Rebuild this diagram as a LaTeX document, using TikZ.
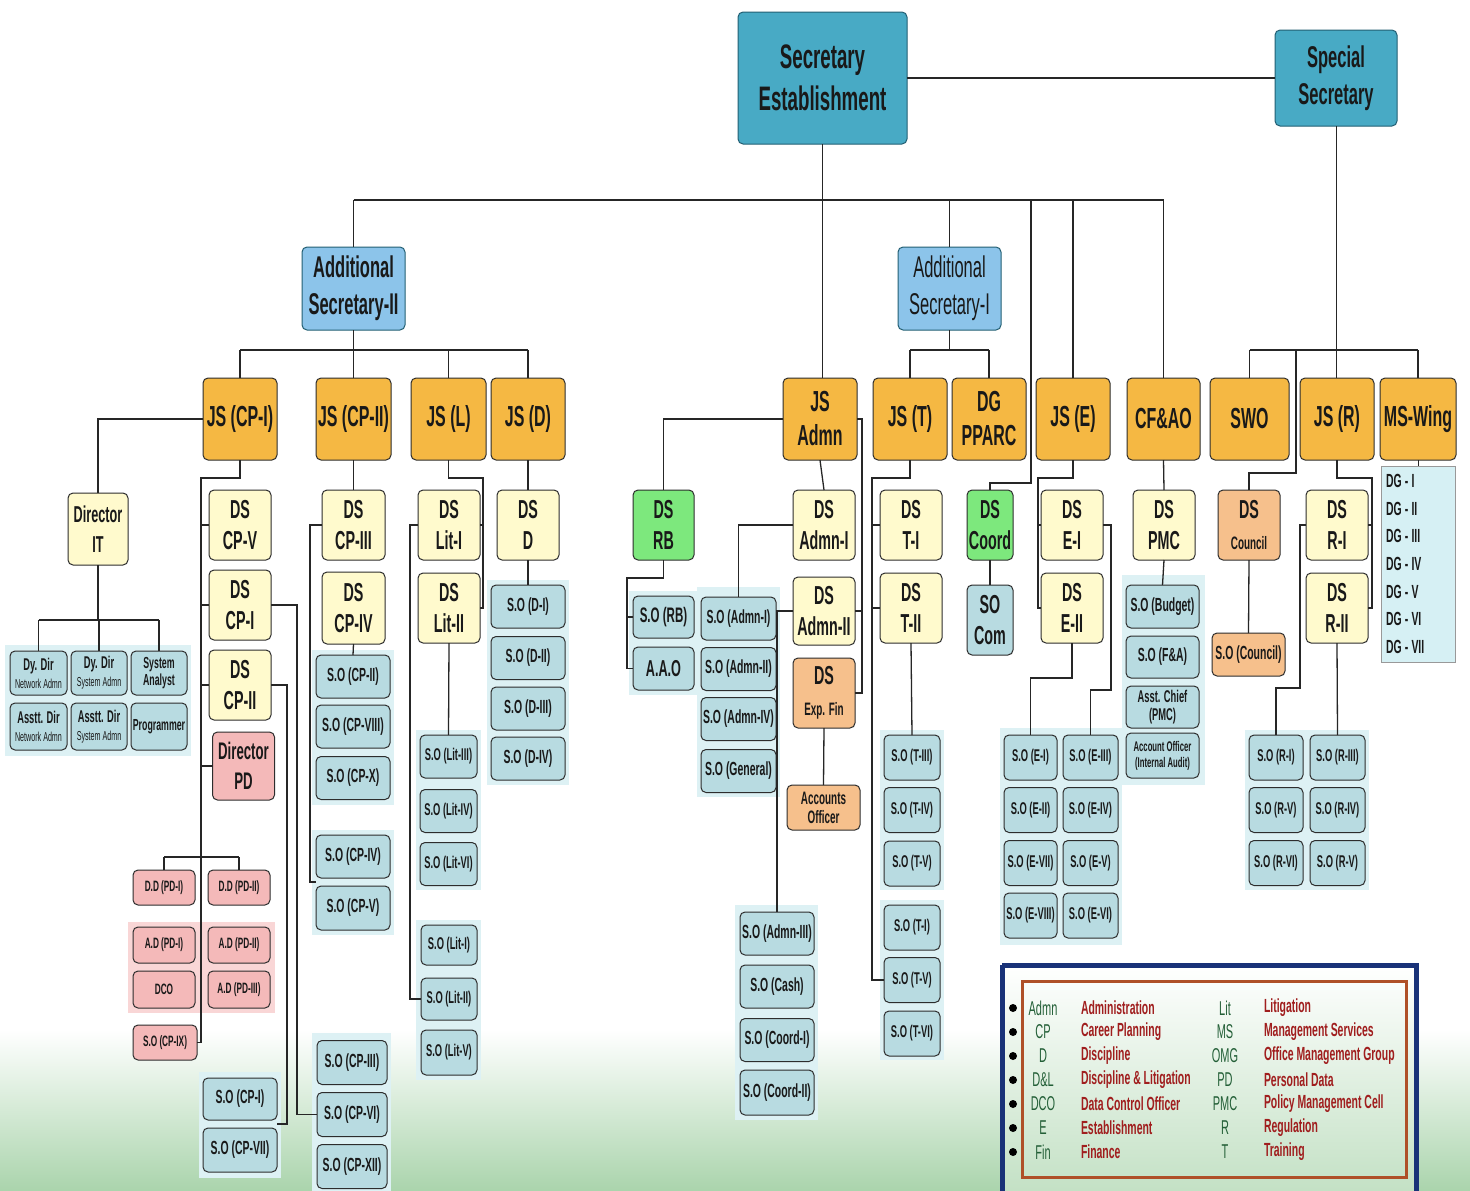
\documentclass[tikz,border=0pt]{standalone}
\usepackage{fontspec}
\usetikzlibrary{calc}
\newfontfamily\hdfont[FakeStretch=0.55]{Liberation Sans}
\newfontfamily\sofont[FakeStretch=0.55]{Liberation Sans}
\newcommand\myfs[2]{\fontsize{#1}{#2}\selectfont}
\definecolor{teal1}{RGB}{72,170,197}
\definecolor{teal1d}{RGB}{35,95,115}
\definecolor{asblue}{RGB}{140,196,234}
\definecolor{jsor}{RGB}{245,184,67}
\definecolor{dsyel}{RGB}{255,250,205}
\definecolor{pinkb}{RGB}{244,185,185}
\definecolor{pinkbk}{RGB}{249,214,214}
\definecolor{grn}{RGB}{125,232,125}
\definecolor{peach}{RGB}{246,192,140}
\definecolor{sobl}{RGB}{184,219,225}
\definecolor{bkc}{RGB}{221,241,244}
\definecolor{dgc}{RGB}{214,240,244}
\definecolor{bgg}{RGB}{170,212,172}
\definecolor{navy}{RGB}{25,50,120}
\definecolor{brn}{RGB}{175,80,40}
\definecolor{lgg}{RGB}{35,95,55}
\definecolor{lgr}{RGB}{160,30,30}
\definecolor{edge}{RGB}{45,45,45}
\begin{document}
\begin{tikzpicture}[x=1pt,y=-1pt,
  every node/.style={align=center, inner sep=1pt, outer sep=0pt, text=black!90},
  wh/.style 2 args={minimum width=#1,minimum height=#2},
  bx/.style={draw=edge, line width=1pt, rounded corners=5},
  topbox/.style={bx, fill=teal1, draw=teal1d, font=\hdfont\bfseries\myfs{34}{42}},
  asbox/.style={bx, fill=asblue, draw=teal1d, font=\hdfont\bfseries\myfs{30}{37}},
  jsbox/.style={bx, fill=jsor, font=\hdfont\bfseries\myfs{29}{34}},
  dsbox/.style={bx, fill=dsyel, font=\hdfont\bfseries\myfs{26}{31}},
  pkbox/.style={bx, fill=pinkb, font=\hdfont\bfseries\myfs{24}{30}},
  grbox/.style={bx, fill=grn, font=\hdfont\bfseries\myfs{26}{31}},
  pcbox/.style={bx, fill=peach, font=\hdfont\bfseries\myfs{26}{31}},
  sobox/.style={bx, fill=sobl, font=\sofont\bfseries\myfs{19}{21}},
  sosm/.style={bx, fill=sobl, font=\sofont\bfseries\myfs{17}{19}},
  itbox/.style={bx, fill=sobl, font=\hdfont\bfseries\myfs{17}{18}},
  pdbox/.style={bx, fill=pinkb, font=\sofont\bfseries\myfs{15}{17}},
  conn/.style={draw=black!85, line width=1.3pt},
  barln/.style={draw=black!85, line width=2.6pt},
  lgab/.style={text=lgg, font=\hdfont\myfs{20}{22}},
  lgme/.style={text=lgr, font=\hdfont\bfseries\myfs{19}{22}, anchor=west}]
\useasboundingbox (0,0) rectangle (1470,1191);
\fill[white] (0,0) rectangle (1470,1191);
\shade[top color=white, bottom color=bgg] (0,1030) rectangle (1470,1191);

% backings
\fill[bkc] (5,645) rectangle (191,756);
\fill[bkc] (312,650) rectangle (394,805);
\fill[bkc] (312,830) rectangle (394,935);
\fill[bkc] (312,1033) rectangle (391,1191);
\fill[bkc] (199,1072) rectangle (281,1178);
\fill[bkc] (416,730) rectangle (481,890);
\fill[bkc] (416,920) rectangle (481,1080);
\fill[bkc] (487,580) rectangle (569,785);
\fill[bkc] (629,591) rectangle (698,695);
\fill[bkc] (697,587) rectangle (780,797);
\fill[bkc] (735,905) rectangle (818,1120);
\fill[bkc] (880,730) rectangle (944,890);
\fill[bkc] (880,900) rectangle (944,1060);
\fill[bkc] (1000,728) rectangle (1122,945);
\fill[bkc] (1122,575) rectangle (1205,785);
\fill[bkc] (1245,730) rectangle (1369,890);
\fill[pinkbk] (128,922) rectangle (275,1013);

% legend frame
\shade[top color=white, bottom color=bgg!70] (1002,965) rectangle (1416,1191);
\draw[navy, line width=5pt] (1002,965) -- (1416,965) -- (1416,1195) (1002,965) -- (1002,1195);
\draw[brn, line width=3pt] (1022,981) rectangle (1406,1177);

% top level
\node[topbox,wh={169}{132}] (sec) at (822.5,78) {Secretary\\Establishment};
\node[topbox,wh={122}{96},font=\hdfont\bfseries\myfs{30}{37}] (spec) at (1336,78) {Special\\Secretary};
\node[asbox,wh={103}{83}] (as2) at (353.5,288.5) {Additional\\Secretary-II};
\node[asbox,wh={103}{83},font=\hdfont\myfs{30}{37}] (as1) at (949.5,288.5) {Additional\\Secretary-I};

% JS row
\node[jsbox,wh={74}{82}] (jscp1) at (240,419) {JS (CP-I)};
\node[jsbox,wh={75}{82}] (jscp2) at (353.5,419) {JS (CP-II)};
\node[jsbox,wh={75}{82}] (jsl) at (448.5,419) {JS (L)};
\node[jsbox,wh={74}{82}] (jsd) at (528,419) {JS (D)};
\node[jsbox,wh={74}{82}] (jsadmn) at (820,419) {JS\\Admn};
\node[jsbox,wh={74}{82}] (jst) at (910,419) {JS (T)};
\node[jsbox,wh={74}{82}] (dgpparc) at (989,419) {DG\\PPARC};
\node[jsbox,wh={74}{82}] (jse) at (1073,419) {JS (E)};
\node[jsbox,wh={73}{82}] (cfao) at (1163.5,419) {CF\&AO};
\node[jsbox,wh={79}{82}] (swo) at (1249.5,419) {SWO};
\node[jsbox,wh={74}{82}] (jsr) at (1337,419) {JS (R)};
\node[jsbox,wh={76}{82}] (msw) at (1418,419) {MS-Wing};

% DS row
\node[dsbox,wh={60}{72},font=\hdfont\bfseries\myfs{23}{30}] (dirit) at (98,529) {Director\\IT};
\node[dsbox,wh={62}{70}] (dscp5) at (240,525) {DS\\CP-V};
\node[dsbox,wh={62}{70}] (dscp1) at (240,605) {DS\\CP-I};
\node[dsbox,wh={62}{70}] (dscp2) at (240,685) {DS\\CP-II};
\node[pkbox,wh={62}{68}] (dirpd) at (243.5,766) {Director\\PD};
\node[dsbox,wh={63}{70}] (dscp3) at (353.5,525) {DS\\CP-III};
\node[dsbox,wh={63}{72}] (dscp4) at (353.5,608) {DS\\CP-IV};
\node[dsbox,wh={62}{70}] (dslit1) at (449,525) {DS\\Lit-I};
\node[dsbox,wh={62}{70}] (dslit2) at (449,608) {DS\\Lit-II};
\node[dsbox,wh={62}{70}] (dsd) at (528,525) {DS\\D};
\node[grbox,wh={61}{70}] (dsrb) at (663.5,525) {DS\\RB};
\node[dsbox,wh={62}{70}] (dsadmn1) at (824,525) {DS\\Admn-I};
\node[dsbox,wh={62}{68}] (dsadmn2) at (824,611) {DS\\Admn-II};
\node[pcbox,wh={62}{70}] (dsexp) at (824,693) {DS\\\myfs{18}{24}Exp. Fin};
\node[pcbox,wh={73}{45},font=\hdfont\bfseries\myfs{18}{19}] (acco) at (823.5,807.5) {Accounts\\Officer};
\node[dsbox,wh={62}{70}] (dst1) at (911,525) {DS\\T-I};
\node[dsbox,wh={62}{70}] (dst2) at (911,608) {DS\\T-II};
\node[grbox,wh={46}{70}] (dscoord) at (990,525) {DS\\Coord};
\node[bx,fill=sobl,wh={46}{70},font=\hdfont\bfseries\myfs{26}{31}] (socom) at (990,620) {SO\\Com};
\node[dsbox,wh={62}{70}] (dse1) at (1072,525) {DS\\E-I};
\node[dsbox,wh={62}{70}] (dse2) at (1072,608) {DS\\E-II};
\node[dsbox,wh={62}{70}] (dspmc) at (1164,525) {DS\\PMC};
\node[pcbox,wh={62}{70}] (dscouncil) at (1249,525) {DS\\\myfs{18}{24}Council};
\node[dsbox,wh={62}{70}] (dsr1) at (1337,525) {DS\\R-I};
\node[dsbox,wh={62}{70}] (dsr2) at (1337,608) {DS\\R-II};

% IT children
\node[itbox,wh={57}{44}] (dydirn) at (38.5,673) {Dy. Dir\\\mdseries\myfs{13}{14}Network Admn};
\node[itbox,wh={56}{44}] (dydirs) at (99,673) {Dy. Dir\\\mdseries\myfs{13}{14}System Admn};
\node[itbox,wh={56}{44},font=\hdfont\bfseries\myfs{16}{17}] (sysan) at (159,673) {System\\Analyst};
\node[itbox,wh={57}{47}] (asstn) at (38.5,726.5) {Asstt. Dir\\\mdseries\myfs{13}{14}Network Admn};
\node[itbox,wh={56}{47}] (assts) at (99,726.5) {Asstt. Dir\\\mdseries\myfs{13}{14}System Admn};
\node[itbox,wh={56}{47},font=\hdfont\bfseries\myfs{16}{17}] (prog) at (159,726.5) {Programmer};

% PD children
\node[pdbox,wh={62}{35}] (ddpd1) at (164,887.5) {D.D (PD-I)};
\node[pdbox,wh={62}{35}] (ddpd2) at (239,887.5) {D.D (PD-II)};
\node[pdbox,wh={62}{36}] (adpd1) at (164,945) {A.D (PD-I)};
\node[pdbox,wh={62}{37}] (dco) at (164,989.5) {DCO};
\node[pdbox,wh={62}{36}] (adpd2) at (239,945) {A.D (PD-II)};
\node[pdbox,wh={62}{37}] (adpd3) at (239,989.5) {A.D (PD-III)};
\node[pdbox,wh={64}{35}] (socp9) at (165,1042.5) {S.O (CP-IX)};

% CP S.O
\node[sobox,wh={74}{43}] (socp2) at (353,676.5) {S.O (CP-II)};
\node[sobox,wh={74}{43}] (socp8) at (353,726.5) {S.O (CP-VIII)};
\node[sobox,wh={74}{43}] (socp10) at (353,778) {S.O (CP-X)};
\node[sobox,wh={74}{43}] (socp4) at (353,856.5) {S.O (CP-IV)};
\node[sobox,wh={74}{44}] (socp5) at (353,908) {S.O (CP-V)};
\node[sobox,wh={70}{44}] (socp3) at (352,1062.5) {S.O (CP-III)};
\node[sobox,wh={70}{44}] (socp6) at (352,1114.5) {S.O (CP-VI)};
\node[sobox,wh={70}{44}] (socp12) at (352,1166.5) {S.O (CP-XII)};
\node[sobox,wh={74}{42}] (socp1) at (240,1099) {S.O (CP-I)};
\node[sobox,wh={74}{44}] (socp7) at (240,1150) {S.O (CP-VII)};

% Lit
\node[sosm,wh={57}{43}] (solit3) at (448.5,756.5) {S.O (Lit-III)};
\node[sosm,wh={57}{43}] (solit4) at (448.5,811) {S.O (Lit-IV)};
\node[sosm,wh={57}{43}] (solit6) at (448.5,864) {S.O (Lit-VI)};
\node[sosm,wh={56}{40}] (solit1) at (449,945) {S.O (Lit-I)};
\node[sosm,wh={56}{42}] (solit2) at (449,999) {S.O (Lit-II)};
\node[sosm,wh={56}{45}] (solit5) at (449,1052.5) {S.O (Lit-V)};

% D
\node[sobox,wh={74}{43}] (sod1) at (528,606.5) {S.O (D-I)};
\node[sobox,wh={74}{43}] (sod2) at (528,658) {S.O (D-II)};
\node[sobox,wh={74}{43}] (sod3) at (528,708.5) {S.O (D-III)};
\node[sobox,wh={74}{43}] (sod4) at (528,758.5) {S.O (D-IV)};

% RB
\node[sobox,wh={61}{42},font=\hdfont\bfseries\myfs{21}{22}] (sorb) at (663.5,617) {S.O (RB)};
\node[sobox,wh={61}{43},font=\hdfont\bfseries\myfs{23}{24}] (aao) at (663.5,668.5) {A.A.O};

% Admn
\node[sobox,wh={75}{43}] (soadmn1) at (738.5,618.5) {S.O (Admn-I)};
\node[sobox,wh={75}{43}] (soadmn2) at (738.5,669) {S.O (Admn-II)};
\node[sobox,wh={75}{43}] (soadmn4) at (738.5,719) {S.O (Admn-IV)};
\node[sobox,wh={75}{43}] (sogen) at (738.5,771) {S.O (General)};
\node[sobox,wh={74}{43}] (soadmn3) at (777,933.5) {S.O (Admn-III)};
\node[sobox,wh={74}{43}] (socash) at (777,986.5) {S.O (Cash)};
\node[sobox,wh={74}{43}] (socoord1) at (777,1040) {S.O (Coord-I)};
\node[sobox,wh={74}{45}] (socoord2) at (777,1092.5) {S.O (Coord-II)};

% T
\node[sosm,wh={56}{45}] (sot3) at (912,757.5) {S.O (T-III)};
\node[sosm,wh={56}{45}] (sot4) at (912,810) {S.O (T-IV)};
\node[sosm,wh={56}{45}] (sot5a) at (912,863.5) {S.O (T-V)};
\node[sosm,wh={56}{45}] (sot1) at (912,927.5) {S.O (T-I)};
\node[sosm,wh={56}{45}] (sot5b) at (912,980) {S.O (T-V)};
\node[sosm,wh={56}{45}] (sot6) at (912,1033.5) {S.O (T-VI)};

% E
\node[sosm,wh={53}{45}] (soe1) at (1030.5,757.5) {S.O (E-I)};
\node[sosm,wh={53}{45}] (soe2) at (1030.5,810) {S.O (E-II)};
\node[sosm,wh={53}{45}] (soe7) at (1030.5,863) {S.O (E-VII)};
\node[sosm,wh={53}{45}] (soe8) at (1030.5,915.5) {S.O (E-VIII)};
\node[sosm,wh={55}{45}] (soe3) at (1090.5,757.5) {S.O (E-III)};
\node[sosm,wh={55}{45}] (soe4) at (1090.5,810) {S.O (E-IV)};
\node[sosm,wh={55}{45}] (soe5) at (1090.5,863) {S.O (E-V)};
\node[sosm,wh={55}{45}] (soe6) at (1090.5,915.5) {S.O (E-VI)};

% PMC
\node[sobox,wh={73}{43}] (sobudget) at (1162.5,606.5) {S.O (Budget)};
\node[sobox,wh={73}{42}] (sofa) at (1162.5,657) {S.O (F\&A)};
\node[sobox,wh={73}{42},font=\sofont\bfseries\myfs{17}{18}] (asstchief) at (1162.5,707) {Asst. Chief\\(PMC)};
\node[sobox,wh={73}{45},font=\sofont\bfseries\myfs{14}{16}] (accoff) at (1162.5,755.5) {Account Officer\\(Internal Audit)};

% Council
\node[bx,fill=peach,wh={73}{43},font=\sofont\bfseries\myfs{19}{21}] (socouncil) at (1248.5,654.5) {S.O (Council)};

% R
\node[sosm,wh={54}{45}] (sor1) at (1276,757.5) {S.O (R-I)};
\node[sosm,wh={54}{45}] (sor5a) at (1276,810) {S.O (R-V)};
\node[sosm,wh={54}{45}] (sor6) at (1276,863) {S.O (R-VI)};
\node[sosm,wh={55}{45}] (sor3) at (1337.5,757.5) {S.O (R-III)};
\node[sosm,wh={55}{45}] (sor4) at (1337.5,810) {S.O (R-IV)};
\node[sosm,wh={55}{45}] (sor5b) at (1337.5,863) {S.O (R-V)};

% MS wing list
\node[draw=black!40, fill=dgc, line width=0.8pt, minimum height=196, text width=64, inner xsep=5, anchor=north, align=left, font=\hdfont\bfseries\myfs{19}{27.7}] (dgbox) at (1418,466) {DG\,-\,I\\DG\,-\,II\\DG\,-\,III\\DG\,-\,IV\\DG\,-\,V\\DG\,-\,VI\\DG\,-\,VII};

% helper coordinates
\coordinate (h200) at (0,200);
\coordinate (h350) at (0,350);
\coordinate (h620) at (0,620);
\coordinate (h857) at (0,857);
\coordinate (h678) at (0,678);
\coordinate (c1031) at (1031,483);
\coordinate (c1296) at (1296,473);
\coordinate (v201) at (201,478);
\coordinate (v287) at (287,0);
\coordinate (v297) at (297,0);
\coordinate (v310) at (310,0);
\coordinate (v410) at (410,0);
\coordinate (c483) at (483,478);
\coordinate (c627) at (627,578);
\coordinate (v862) at (862,0);
\coordinate (c872) at (872,478);
\coordinate (c1038) at (1038,478);
\coordinate (c1111) at (1111,690);
\coordinate (c1372) at (1372,478);
\coordinate (c1300) at (1300,688);
\coordinate (g1) at ($(socp1.south east)!.5!(socp7.north east)$);
\coordinate (g2) at ($(socp4.south west)!.5!(socp5.north west)$);

% top connectors
\draw[conn, line width=2.2pt] (sec.east) -- (spec.west);
\draw[conn, line width=1pt] (sec.south) -- (sec.south |- jsadmn.north);
\draw[barln] (as2.north |- h200) -- (cfao.north |- h200);
\draw[conn] (as2.north) -- (as2.north |- h200);
\draw[conn] (as1.north) -- (as1.north |- h200);
\draw[conn] (jse.north) -- (jse.north |- h200);
\draw[conn] (cfao.north) -- (cfao.north |- h200);
\draw[conn] (dscoord.north) -- (dscoord.north |- c1031) -- (c1031) -- (c1031 |- h200);
% AS-II
\draw[conn] (as2.south) -- (as2.south |- h350);
\draw[barln] (jscp1.north |- h350) -- (jsd.north |- h350);
\foreach \n in {jscp1,jscp2,jsl,jsd} \draw[conn] (\n.north) -- (\n.north |- h350);
% AS-I
\draw[conn] (as1.south) -- (as1.south |- h350);
\draw[barln] (jst.north |- h350) -- (dgpparc.north |- h350);
\foreach \n in {jst,dgpparc} \draw[conn] (\n.north) -- (\n.north |- h350);
% Special Secretary
\draw[conn, line width=1pt] (spec.south) -- (spec.south |- jsr.north);
\draw[barln] (swo.north |- h350) -- (msw.north |- h350);
\foreach \n in {swo,msw} \draw[conn] (\n.north) -- (\n.north |- h350);
\draw[conn] (dscouncil.north) -- (dscouncil.north |- c1296) -- (c1296) -- (c1296 |- h350);

% JS (CP-I)
\draw[conn] (jscp1.west) -| (dirit.north);
\draw[conn] (dirit.south) -- (dirit.south |- h620);
\draw[barln] (dydirn.north |- h620) -- (sysan.north |- h620);
\foreach \n in {dydirn,dydirs,sysan} \draw[conn] (\n.north) -- (\n.north |- h620);
\draw[conn] (jscp1.south) |- (v201) -- (v201 |- socp9.east) -- (socp9.east);
\foreach \n in {dscp5,dscp1,dscp2,dirpd} \draw[conn] (v201 |- \n.west) -- (\n.west);
\draw[barln] (ddpd1.north |- h857) -- (ddpd2.north |- h857);
\foreach \n in {ddpd1,ddpd2} \draw[conn] (\n.north) -- (\n.north |- h857);
\draw[conn] (dscp1.east) -| (v297 |- socp6.west) -- (socp6.west);
\draw[conn] (dscp2.east) -| (v287 |- g1) -- (g1);
% JS (CP-II)
\draw[conn] (jscp2.south) -- (dscp3.north);
\draw[conn] (dscp4.south) -- (socp2.north);
\draw[conn] (dscp3.west) -| (v310 |- g2) -- (g2);
% JS (L)
\draw[conn] (jsl.south) |- (c483) -- (c483 |- dslit2.east) -- (dslit2.east);
\draw[conn] (c483 |- dslit1.east) -- (dslit1.east);
\draw[conn] (dslit1.west) -| (v410 |- solit2.west) -- (solit2.west);
\draw[conn] (dslit2.south) -- (solit3.north);
% JS (D)
\draw[conn] (jsd.south) -- (dsd.north);
\draw[conn] (dsd.south) -- (sod1.north);
% JS Admn
\draw[conn] (jsadmn.west) -| (dsrb.north);
\draw[conn] (dsrb.south) |- (c627) -- (c627 |- aao.west) -- (aao.west);
\draw[conn] (c627 |- sorb.west) -- (sorb.west);
\draw[conn] (jsadmn.south) -- (dsadmn1.north);
\draw[conn] (jsadmn.east) -| (v862 |- dsexp.east) -- (dsexp.east);
\draw[conn] (v862 |- dsadmn2.east) -- (dsadmn2.east);
\draw[conn] (dsadmn1.west) -| (soadmn1.north);
\draw[conn] (dsadmn2.west) -| (soadmn3.north);
\draw[conn] (dsexp.south) -- (acco.north);
% JS (T)
\draw[conn] (jst.south) |- (c872) -- (c872 |- sot5b.west) -- (sot5b.west);
\foreach \n in {dst1,dst2} \draw[conn] (c872 |- \n.west) -- (\n.west);
\draw[conn] (dst2.south) -- (sot3.north);
\draw[conn] (dscoord.south) -- (socom.north);
% JS (E)
\draw[conn] (jse.south) |- (c1038) -- (c1038 |- dse2.west) -- (dse2.west);
\draw[conn] (c1038 |- dse1.west) -- (dse1.west);
\draw[conn] (dse2.south) -- (dse2.south |- h678) -| (soe1.north);
\draw[conn] (dse1.east) -| (c1111) -| (soe3.north);
% CF&AO
\draw[conn] (cfao.south) -- (dspmc.north);
\draw[conn] (dspmc.south) -- (sobudget.north);
\draw[conn] (dscouncil.south) -- (socouncil.north);
% JS (R)
\draw[conn] (jsr.south) |- (c1372) -- (c1372 |- dsr2.east) -- (dsr2.east);
\draw[conn] (c1372 |- dsr1.east) -- (dsr1.east);
\draw[conn] (dsr1.west) -| (c1300) -| (sor1.north);
\draw[conn] (dsr2.south) -- (sor3.north);
\draw[conn, line width=0.8pt] (msw.south) -- (dgbox.north);

% legend
\foreach \i/\a/\m/\b/\n in {1/Admn/Administration/Lit/Litigation,
  2/CP/Career Planning/MS/Management Services,
  3/D/Discipline/OMG/Office Management Group,
  4/D\&L/Discipline \& Litigation/PD/Personal Data,
  5/DCO/Data Control Officer/PMC/Policy Management Cell,
  6/E/Establishment/R/Regulation,
  7/Fin/Finance/T/Training} {
  \pgfmathsetmacro\yy{984+24*\i}
  \node[circle, fill=black, inner sep=0pt, minimum size=8] (lb\i) at (1013,\yy) {};
  \node[lgab] (la\i) at (1043,\yy) {\a};
  \node[lgme] (lm\i) at (1080,\yy) {\m};
  \node[lgab] (lc\i) at (1225,\yy) {\b};
  \node[lgme] (ln\i) at (1263,\yy) {\n};
}
\end{tikzpicture}
\end{document}
